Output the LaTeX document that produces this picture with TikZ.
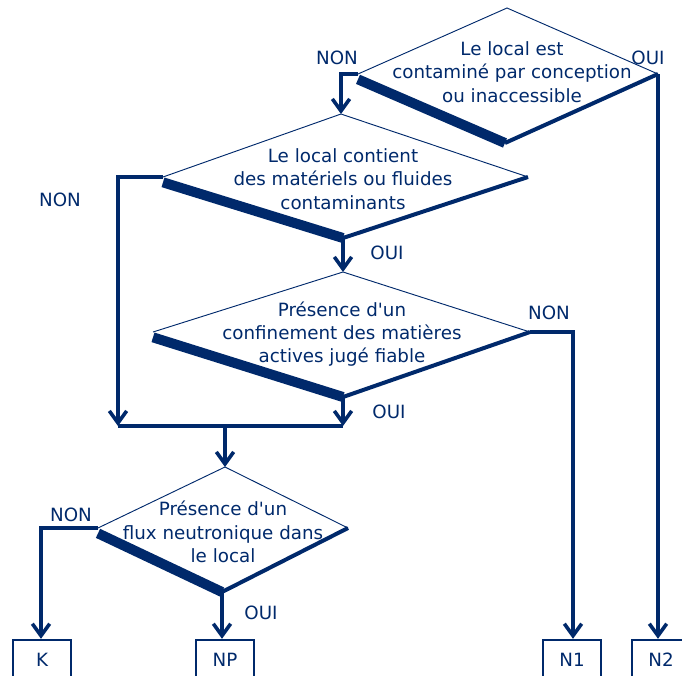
\documentclass[tikz,border=0pt]{standalone}
\usepackage{fontspec}
\setmainfont{DejaVu Sans}
\usetikzlibrary{arrows.meta}
\definecolor{bleu}{RGB}{0,41,107}
\tikzset{
  fleche/.style={line width=2.7pt, -{Straight Barb[length=9pt,width=13pt,line width=2.7pt]}},
  ligne/.style={line width=2.7pt},
  bordfin/.style={line width=0.7pt},
  ombre/.style={line width=7.5pt},
  bordmoyen/.style={line width=3pt},
  question/.style={align=center, font=\fontsize{13.7}{17.5}\selectfont, inner sep=0pt},
  reponse/.style={font=\fontsize{13.7}{16}\selectfont, inner sep=0pt},
  classe/.style={draw, line width=1.8pt, minimum width=43.5pt, minimum height=30pt, inner sep=0pt, font=\fontsize{13.7}{16}\selectfont}
}

\begin{document}
\begin{tikzpicture}[x=0.75pt, y=-0.75pt, color=bleu]
  \useasboundingbox (0,0) rectangle (682,675);
  % sommets des losanges
  \coordinate (d1-n) at (507,8);
  \coordinate (d1-w) at (358,74);
  \coordinate (d1-e) at (658,74);
  \coordinate (d1-s) at (505,143);
  \coordinate (d2-n) at (341,114);
  \coordinate (d2-w) at (163,177);
  \coordinate (d2-e) at (528,177);
  \coordinate (d2-s) at (343,238);
  \coordinate (d3-n) at (343,272);
  \coordinate (d3-w) at (153,332);
  \coordinate (d3-e) at (530,332);
  \coordinate (d3-s) at (343,397);
  \coordinate (d4-n) at (225,467);
  \coordinate (d4-w) at (98,528);
  \coordinate (d4-e) at (348,528);
  \coordinate (d4-s) at (222,592);
  % Draw the decision shapes
  \foreach \d in {d1,d2,d3,d4} {
    \draw[bordfin] (\d-w) -- (\d-n) -- (\d-e);
    \draw[bordmoyen] (\d-s) -- (\d-e);
    \draw[ombre] ([yshift=-4pt]\d-w) -- (\d-s);
  }
  \node[question] (q1) at (512,72) {Le local est\\contaminé par conception\\ou inaccessible};
  \node[question] (q2) at (343,179) {Le local contient\\des matériels ou fluides\\contaminants};
  \node[question] (q3) at (342,334) {Présence d\textquotesingle un\\confinement des matières\\actives jugé fiable};
  \node[question] (q4) at (223,532) {Présence d\textquotesingle un\\flux neutronique dans\\le local};
  % classes finales
  \node[classe] (k) at (42,660) {K};
  \node[classe] (np) at (225,660) {NP};
  \node[classe] (n1) at (572,660) {N1};
  \node[classe] (n2) at (661,660) {N2};
  % jonction
  \coordinate (jg) at (118,426);
  \coordinate (jm) at (225,426);
  \coordinate (jd) at (343,426);
  % Draw the connectors
  \draw[fleche] (d1-w) -| (d2-n);
  \draw[fleche] (d1-e) -- (d1-e |- n2.north);
  \draw[fleche] (d2-w) -| (jg);
  \draw[fleche] (d2-s) -- (d3-n);
  \draw[fleche] (d3-e) -| (n1.north -| 573,0);
  \draw[fleche] (d3-s) -- (jd);
  \draw[ligne] (jg) -- (jd);
  \draw[fleche] (jm) -- (d4-n);
  \draw[fleche] (d4-w) -| (k.north -| 41,0);
  \draw[fleche] (d4-s) -- (d4-s |- np.north);
  % etiquettes
  \node[reponse] (non1) at (337,58) {NON};
  \node[reponse] (oui1) at (648,58) {OUI};
  \node[reponse] (non2) at (60,200) {NON};
  \node[reponse] (oui2) at (387,253) {OUI};
  \node[reponse] (non3) at (549,313) {NON};
  \node[reponse] (oui3) at (389,412) {OUI};
  \node[reponse] (non4) at (71,515) {NON};
  \node[reponse] (oui4) at (261,613) {OUI};
\end{tikzpicture}
\end{document}
